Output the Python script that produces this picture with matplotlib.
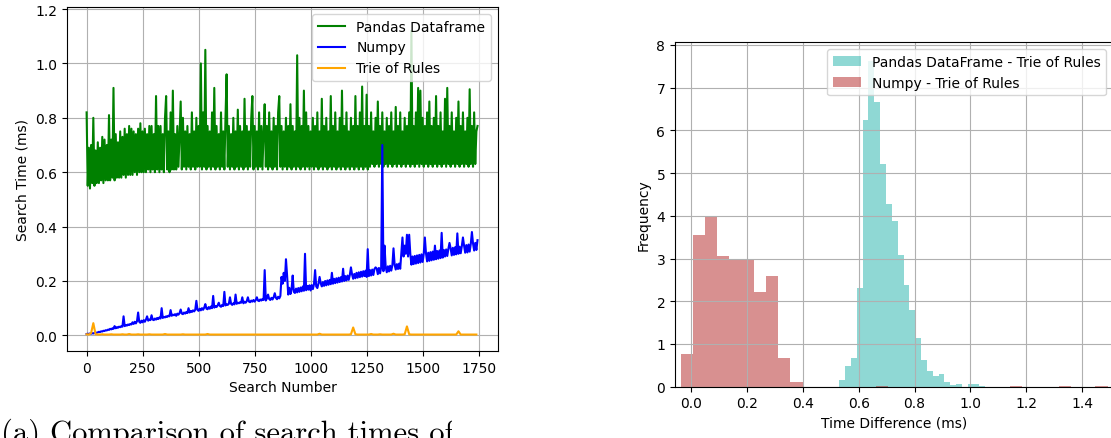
import numpy as np
import matplotlib
matplotlib.use("Agg")
import matplotlib.pyplot as plt
from matplotlib.transforms import Bbox

# ---------------- data ----------------
# search times (ms); Pandas / Numpy sampled every 5th search, trie every 10th
search_number = np.arange(0, 1750, 5)
trie_search_number = np.arange(0, 1750, 10)

pandas_times = [
    0.82, 0.55, 0.69, 0.54, 0.70, 0.56, 0.80, 0.55, 0.68, 0.56,
    0.71, 0.56, 0.69, 0.57, 0.73, 0.56, 0.72, 0.57, 0.70, 0.57,
    0.81, 0.57, 0.72, 0.58, 0.91, 0.57, 0.74, 0.58, 0.71, 0.58,
    0.75, 0.58, 0.73, 0.59, 0.76, 0.58, 0.74, 0.59, 0.77, 0.59,
    0.76, 0.59, 0.75, 0.60, 0.74, 0.59, 0.76, 0.60, 0.78, 0.60,
    0.75, 0.60, 0.76, 0.60, 0.74, 0.61, 0.77, 0.60, 0.77, 0.61,
    0.74, 0.60, 0.88, 0.61, 0.77, 0.60, 0.77, 0.61, 0.74, 0.60,
    0.80, 0.88, 0.61, 0.75, 0.60, 0.82, 0.61, 0.90, 0.61, 0.74,
    0.61, 0.77, 0.62, 0.74, 0.86, 0.61, 0.80, 0.62, 0.75, 0.61,
    0.77, 0.62, 0.74, 0.61, 0.82, 0.62, 0.75, 0.61, 0.80, 0.62,
    0.77, 0.62, 1.00, 0.61, 0.82, 0.62, 1.05, 0.61, 0.77, 0.62,
    0.75, 0.61, 0.82, 0.62, 0.91, 0.61, 0.77, 0.62, 0.74, 0.61,
    0.82, 0.62, 0.75, 0.61, 0.80, 0.96, 0.62, 0.77, 0.61, 0.74,
    0.62, 0.80, 0.61, 0.75, 0.62, 0.83, 0.61, 0.77, 0.62, 0.75,
    0.61, 0.87, 0.62, 0.77, 0.61, 0.75, 0.62, 0.80, 0.88, 0.61,
    0.77, 0.62, 0.75, 0.61, 0.82, 0.62, 0.77, 0.61, 0.75, 0.85,
    0.62, 0.77, 0.61, 0.82, 0.62, 0.75, 0.61, 0.80, 0.62, 0.77,
    0.61, 0.82, 0.88, 0.62, 0.77, 0.61, 0.75, 0.62, 0.80, 0.61,
    0.77, 0.62, 0.85, 0.61, 0.77, 0.62, 0.75, 0.61, 1.03, 0.62,
    0.80, 0.61, 0.77, 0.62, 0.90, 0.61, 0.82, 0.62, 0.77, 0.61,
    0.75, 0.62, 0.80, 0.61, 0.77, 0.62, 0.82, 0.61, 0.75, 0.62,
    0.87, 0.61, 0.77, 0.62, 0.80, 0.61, 0.75, 0.62, 0.88, 0.61,
    0.77, 0.62, 0.82, 0.61, 0.75, 0.62, 0.80, 0.61, 0.90, 0.62,
    0.77, 0.61, 0.82, 0.62, 0.75, 0.61, 0.80, 0.62, 0.77, 0.61,
    0.88, 0.62, 0.77, 0.61, 0.82, 0.62, 0.915, 0.61, 0.77, 0.62,
    0.885, 0.61, 0.77, 0.62, 0.82, 0.63, 0.75, 0.62, 0.80, 0.63,
    0.86, 0.62, 0.77, 0.63, 0.82, 0.62, 0.75, 0.63, 0.80, 0.62,
    0.77, 0.63, 0.82, 0.62, 0.75, 0.63, 0.84, 0.62, 0.77, 0.63,
    0.82, 0.62, 0.75, 0.63, 0.80, 0.62, 0.77, 0.63, 0.82, 0.62,
    1.12, 0.63, 0.77, 0.62, 0.82, 0.63, 0.91, 0.62, 0.90, 0.63,
    0.80, 0.62, 0.77, 0.63, 0.82, 0.62, 0.86, 0.63, 0.77, 0.62,
    0.80, 0.63, 0.88, 0.62, 0.77, 0.63, 0.82, 0.62, 0.75, 0.63,
    0.87, 0.62, 0.91, 0.63, 0.77, 0.62, 0.82, 0.63, 0.75, 0.62,
    0.80, 0.63, 0.86, 0.62, 0.77, 0.63, 0.82, 0.62, 0.75, 0.63,
    0.80, 0.62, 0.905, 0.63, 0.77, 0.62, 0.82, 0.63, 0.75, 0.77,
]

numpy_times = [
    0.005, 0.006, 0.005, 0.007, 0.006, 0.008, 0.007, 0.009, 0.008, 0.010,
    0.011, 0.013, 0.012, 0.015, 0.014, 0.017, 0.016, 0.019, 0.018, 0.021,
    0.020, 0.024, 0.022, 0.026, 0.024, 0.034, 0.026, 0.030, 0.028, 0.032,
    0.030, 0.034, 0.032, 0.070, 0.034, 0.038, 0.036, 0.040, 0.038, 0.042,
    0.040, 0.048, 0.042, 0.050, 0.044, 0.052, 0.084, 0.050, 0.046, 0.054,
    0.048, 0.056, 0.050, 0.058, 0.070, 0.054, 0.058, 0.056, 0.074, 0.058,
    0.056, 0.062, 0.058, 0.064, 0.060, 0.066, 0.062, 0.100, 0.064, 0.068,
    0.066, 0.070, 0.068, 0.072, 0.070, 0.093, 0.072, 0.076, 0.074, 0.078,
    0.072, 0.080, 0.076, 0.082, 0.095, 0.080, 0.078, 0.084, 0.080, 0.086,
    0.082, 0.100, 0.084, 0.090, 0.086, 0.092, 0.088, 0.094, 0.127, 0.094,
    0.090, 0.098, 0.092, 0.100, 0.094, 0.102, 0.115, 0.098, 0.096, 0.104,
    0.098, 0.106, 0.100, 0.145, 0.102, 0.108, 0.104, 0.110, 0.120, 0.108,
    0.105, 0.112, 0.108, 0.160, 0.110, 0.114, 0.112, 0.116, 0.140, 0.116,
    0.112, 0.118, 0.114, 0.150, 0.116, 0.120, 0.118, 0.122, 0.120, 0.140,
    0.118, 0.124, 0.120, 0.126, 0.140, 0.124, 0.122, 0.128, 0.124, 0.130,
    0.124, 0.130, 0.140, 0.128, 0.126, 0.132, 0.128, 0.134, 0.130, 0.240,
    0.128, 0.136, 0.150, 0.134, 0.130, 0.138, 0.132, 0.140, 0.155, 0.138,
    0.133, 0.142, 0.136, 0.145, 0.215, 0.190, 0.230, 0.200, 0.280, 0.220,
    0.150, 0.175, 0.152, 0.170, 0.220, 0.160, 0.156, 0.172, 0.158, 0.174,
    0.160, 0.176, 0.162, 0.180, 0.164, 0.300, 0.166, 0.182, 0.168, 0.184,
    0.165, 0.185, 0.170, 0.188, 0.240, 0.180, 0.174, 0.190, 0.215, 0.192,
    0.180, 0.196, 0.182, 0.200, 0.184, 0.202, 0.186, 0.204, 0.188, 0.230,
    0.190, 0.208, 0.192, 0.210, 0.194, 0.212, 0.196, 0.214, 0.198, 0.245,
    0.200, 0.218, 0.202, 0.220, 0.204, 0.222, 0.250, 0.224, 0.208, 0.226,
    0.210, 0.230, 0.212, 0.232, 0.214, 0.234, 0.216, 0.236, 0.218, 0.238,
    0.215, 0.317, 0.218, 0.240, 0.220, 0.242, 0.222, 0.244, 0.250, 0.246,
    0.225, 0.248, 0.228, 0.250, 0.700, 0.236, 0.330, 0.252, 0.232, 0.254,
    0.235, 0.256, 0.238, 0.258, 0.320, 0.260, 0.242, 0.262, 0.244, 0.264,
    0.245, 0.300, 0.360, 0.290, 0.330, 0.300, 0.370, 0.290, 0.370, 0.300,
    0.260, 0.290, 0.262, 0.292, 0.264, 0.294, 0.266, 0.296, 0.268, 0.298,
    0.270, 0.300, 0.360, 0.302, 0.272, 0.304, 0.274, 0.306, 0.276, 0.308,
    0.278, 0.330, 0.280, 0.310, 0.282, 0.312, 0.284, 0.377, 0.286, 0.314,
    0.290, 0.316, 0.292, 0.318, 0.340, 0.320, 0.294, 0.322, 0.296, 0.324,
    0.298, 0.375, 0.300, 0.326, 0.302, 0.328, 0.360, 0.330, 0.304, 0.332,
    0.305, 0.334, 0.308, 0.336, 0.380, 0.338, 0.312, 0.340, 0.314, 0.350,
]

trie_times = [
    0.004, 0.003, 0.008, 0.045, 0.004, 0.003, 0.003, 0.004, 0.003, 0.003,
    0.003, 0.004, 0.003, 0.003, 0.003, 0.003, 0.004, 0.003, 0.003, 0.005,
    0.003, 0.003, 0.003, 0.004, 0.003, 0.003, 0.003, 0.003, 0.004, 0.003,
    0.003, 0.003, 0.003, 0.003, 0.003, 0.005, 0.003, 0.003, 0.003, 0.003,
    0.003, 0.003, 0.003, 0.004, 0.003, 0.003, 0.003, 0.003, 0.003, 0.003,
    0.003, 0.003, 0.003, 0.003, 0.005, 0.003, 0.003, 0.003, 0.003, 0.003,
    0.003, 0.003, 0.003, 0.003, 0.003, 0.003, 0.003, 0.003, 0.003, 0.003,
    0.003, 0.003, 0.003, 0.003, 0.003, 0.003, 0.003, 0.003, 0.003, 0.003,
    0.003, 0.003, 0.003, 0.003, 0.003, 0.003, 0.003, 0.003, 0.003, 0.003,
    0.003, 0.003, 0.003, 0.003, 0.003, 0.003, 0.003, 0.003, 0.003, 0.003,
    0.003, 0.003, 0.003, 0.003, 0.006, 0.003, 0.003, 0.003, 0.003, 0.003,
    0.003, 0.003, 0.003, 0.003, 0.003, 0.003, 0.003, 0.003, 0.004, 0.029,
    0.004, 0.003, 0.003, 0.003, 0.003, 0.003, 0.003, 0.005, 0.003, 0.003,
    0.003, 0.004, 0.003, 0.003, 0.003, 0.003, 0.003, 0.006, 0.003, 0.003,
    0.003, 0.003, 0.004, 0.033, 0.004, 0.003, 0.003, 0.003, 0.003, 0.003,
    0.003, 0.003, 0.003, 0.003, 0.003, 0.003, 0.003, 0.003, 0.003, 0.003,
    0.003, 0.003, 0.003, 0.003, 0.003, 0.003, 0.015, 0.003, 0.003, 0.003,
    0.003, 0.003, 0.003, 0.003, 0.003,
]

# histograms of time differences (density per bin)
pandas_diff_start, pandas_diff_width = 0.5306, 0.0209
pandas_diff_density = [
    0.165, 0.48, 0.66, 2.32, 6.25, 7.63, 6.67, 5.21, 4.27, 3.87,
    3.08, 2.38, 1.80, 1.13, 0.62, 0.37, 0.24, 0.30, 0.12, 0.03,
    0.06, 0.0, 0.055, 0.055, 0.02,
]

numpy_diff_start, numpy_diff_width = -0.0368, 0.04365
numpy_diff_density = [
    0.765, 3.55, 4.0, 3.06, 3.0, 3.0, 2.21, 2.6, 0.66, 0.11,
    0.0, 0.0, 0.0, 0.0, 0.0, 0.0, 0.026, 0.0, 0.0, 0.0,
    0.0, 0.0, 0.0, 0.0, 0.0, 0.0, 0.0, 0.026, 0.0, 0.0,
    0.0, 0.026, 0.0, 0.0, 0.026,
]

caption_label = "(a)"
caption_text = "Comparison of search times of rules"

# ---------------- figure ----------------
W, H = 1111, 439
fig = plt.figure(figsize=(W / 100, H / 100), dpi=100)


def px_axes(left, top, right, bottom):
    return fig.add_axes([left / W, 1 - bottom / H, (right - left) / W, (bottom - top) / H])


# left: search times
ax1 = px_axes(67, 8, 498, 352)
ax1.plot(search_number, pandas_times, color="green", label="Pandas Dataframe")
ax1.plot(search_number, numpy_times, color="blue", label="Numpy")
ax1.plot(trie_search_number, trie_times, color="orange", label="Trie of Rules")
ax1.set_xlim(-87.5, 1836.5)
ax1.set_ylim(-0.0575, 1.2075)
ax1.set_xticks([0, 250, 500, 750, 1000, 1250, 1500, 1750])
ax1.set_yticks([0.0, 0.2, 0.4, 0.6, 0.8, 1.0, 1.2])
ax1.set_xlabel("Search Number")
ax1.set_ylabel("Search Time (ms)")
ax1.grid(True)
ax1.legend(loc="upper right")

# right: histogram of differences
ax2 = px_axes(675, 43.3, 1113, 387.7)
p_edges = pandas_diff_start + pandas_diff_width * np.arange(len(pandas_diff_density) + 1)
n_edges = numpy_diff_start + numpy_diff_width * np.arange(len(numpy_diff_density) + 1)
ax2.hist(p_edges[:-1], bins=p_edges, weights=pandas_diff_density,
         color="lightseagreen", alpha=0.5, label="Pandas DataFrame - Trie of Rules")
ax2.hist(n_edges[:-1], bins=n_edges, weights=numpy_diff_density,
         color="firebrick", alpha=0.5, label="Numpy - Trie of Rules")
ax2.set_xlim(-0.057, 1.510)
ax2.set_ylim(0, 8.06)
ax2.set_xticks([0.0, 0.2, 0.4, 0.6, 0.8, 1.0, 1.2, 1.4])
ax2.set_xlabel("Time Difference (ms)")
ax2.set_ylabel("Frequency")
ax2.grid(True)
ax2.legend(loc="upper right")

# sub-caption below the left panel
clip = Bbox.from_extents(0, 0, 452, H)
for x_px, s in [(1, caption_label), (50, caption_text)]:
    t = fig.text(x_px / W, -3 / H, s, family="cmr10", fontsize=22,
                 va="baseline", ha="left")
    t.set_clip_box(clip)
    t.set_clip_on(True)

fig.savefig("out.png", dpi=100)
